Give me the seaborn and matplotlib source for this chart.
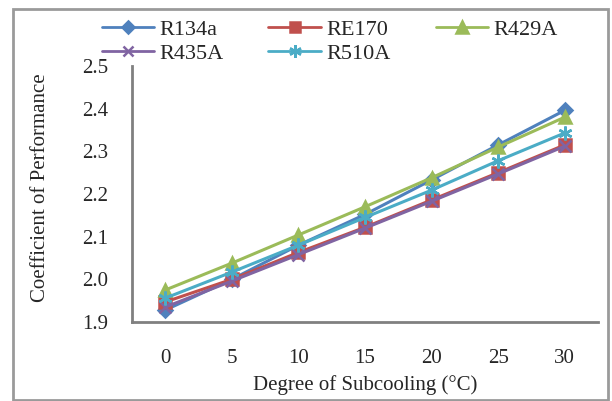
import matplotlib
matplotlib.use("Agg")
import matplotlib.pyplot as plt
import seaborn as sns
import pandas as pd
from matplotlib.patches import Rectangle
from matplotlib.lines import Line2D

subcooling = [0, 5, 10, 15, 20, 25, 30]
r134a = [1.928, 2.000, 2.080, 2.152, 2.233, 2.315, 2.396]
re170 = [1.947, 2.000, 2.063, 2.122, 2.186, 2.250, 2.315]
r429a = [1.975, 2.038, 2.104, 2.170, 2.238, 2.310, 2.380]
r435a = [1.935, 1.996, 2.058, 2.120, 2.183, 2.247, 2.312]
r510a = [1.956, 2.017, 2.080, 2.145, 2.209, 2.278, 2.343]

series = {"R134a": r134a, "RE170": re170, "R429A": r429a, "R435A": r435a, "R510A": r510a}
colors = {"R134a": "#4F81BD", "RE170": "#C0504D", "R429A": "#9BBB59", "R435A": "#8064A2", "R510A": "#4BACC6"}
markers = {"R134a": "D", "RE170": "s", "R429A": "^", "R435A": "x", "R510A": (6, 2, 0)}
msizes = {"R134a": 7, "RE170": 8, "R429A": 9, "R435A": 8, "R510A": 10}

rows = []
for name, vals in series.items():
    for x, v in zip(subcooling, vals):
        rows.append({"Subcooling": x, "COP": v, "Refrigerant": name})
df = pd.DataFrame(rows)

sns.set_style("white")
plt.rcParams["font.family"] = ["Liberation Serif", "DejaVu Serif"]
plt.rcParams["font.size"] = 15

fig = plt.figure(figsize=(6.12, 4.01), dpi=100)
ax = fig.add_axes([132 / 612, 1 - 322 / 401, (598 - 132) / 612, (322 - 66) / 401])

for name in series:
    sub = df[df["Refrigerant"] == name]
    sns.lineplot(data=sub, x="Subcooling", y="COP", ax=ax, color=colors[name],
                 marker=markers[name], markersize=msizes[name], linewidth=2.2,
                 markeredgecolor=colors[name], markeredgewidth=1.8, legend=False)

ax.set_xlim(-2.5, 32.5)
ax.set_ylim(1.9, 2.5)
ax.set_xticks(subcooling)
ax.set_xticklabels([str(s) for s in subcooling])
ax.set_yticks([1.9, 2.0, 2.1, 2.2, 2.3, 2.4, 2.5])
ax.set_yticklabels(["1.9", "2.0", "2.1", "2.2", "2.3", "2.4", "2.5"])
ax.tick_params(axis="y", direction="out", length=6, width=1.5, color="#808080", labelsize=15, pad=11)
ax.tick_params(axis="x", length=0, labelsize=15, pad=19.5)
for s in ["top", "right"]:
    ax.spines[s].set_visible(False)
for s in ["left", "bottom"]:
    ax.spines[s].set_color("#808080")
    ax.spines[s].set_linewidth(2)
ax.set_xlabel("Degree of Subcooling (°C)", fontsize=15)
ax.set_ylabel("Coefficient of Performance", fontsize=15)
ax.xaxis.set_label_coords(0.5, (322 - 375) / 256)
ax.yaxis.set_label_coords((50 - 132) / 466, 0.525)

order = ["R134a", "R435A", "RE170", "R510A", "R429A"]
handles = [Line2D([0], [0], color=colors[n], marker=markers[n], markersize=msizes[n] - 1,
                  linewidth=2, markeredgecolor=colors[n], markeredgewidth=1.8) for n in order]
fig.legend(handles, order, ncol=3, loc="upper left", bbox_to_anchor=(86 / 612, 1 - 4 / 401),
           frameon=False, fontsize=16, handlelength=2.35, handletextpad=0.27,
           columnspacing=2.0, labelspacing=0.15, borderpad=0.2)

fig.patches.append(Rectangle((13 / 612, 0.002), (608 - 13) / 612, (392 - 1) / 401,
                             transform=fig.transFigure, fill=False,
                             edgecolor="#9a9a9a", linewidth=2))

fig.savefig("out.png", dpi=100)
